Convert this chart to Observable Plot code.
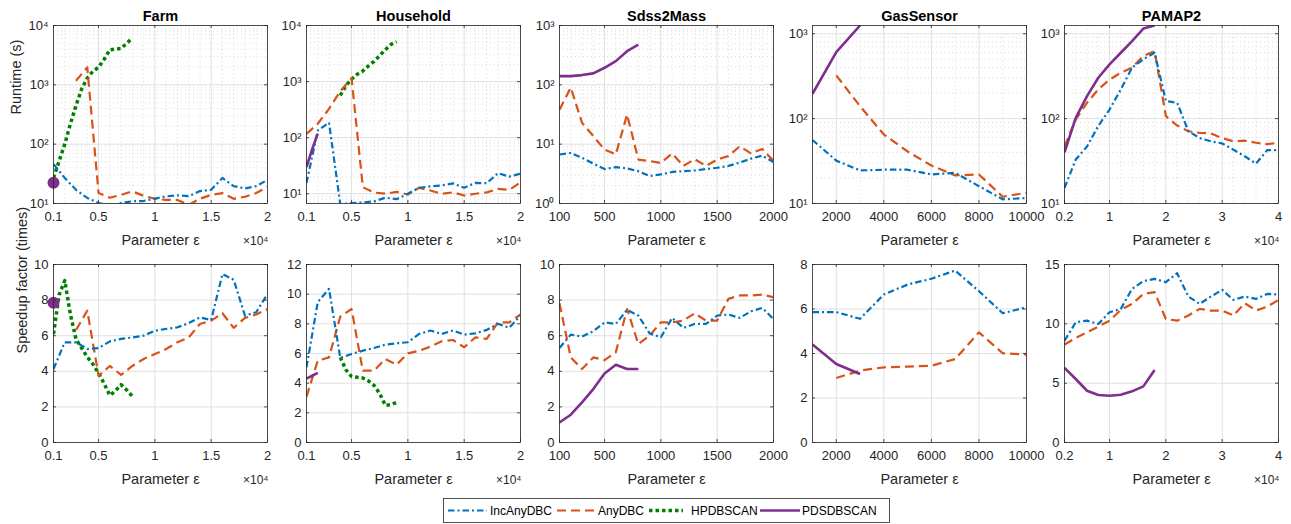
<!DOCTYPE html>
<html><head><meta charset="utf-8">
<script src="https://cdn.jsdelivr.net/npm/d3@7"></script>
<script src="https://cdn.jsdelivr.net/npm/@observablehq/plot@0.6"></script>
<style>
body{margin:0;background:#fff;}
#fig{position:relative;width:1291px;height:524px;overflow:hidden;background:#fff;font-family:"Liberation Sans",Arial,Helvetica,sans-serif;}
#fig > svg{position:absolute;}
</style></head><body><div id="fig"></div>
<script>
// ---------------- DATA ----------------
const seriesNames = ["IncAnyDBC", "AnyDBC", "HPDBSCAN", "PDSDBSCAN"];
const titles = ["Farm", "Household", "Sdss2Mass", "GasSensor", "PAMAP2"];

// Farm (eps x 10^4)
const epsFarm = [0.1,0.2,0.3,0.4,0.5,0.6,0.7,0.8,0.9,1.0,1.1,1.2,1.3,1.4,1.5,1.6,1.7,1.8,1.9,2.0];
const epsFarmAny = [0.3,0.4,0.5,0.6,0.7,0.8,0.9,1.0,1.1,1.2,1.3,1.4,1.5,1.6,1.7,1.8,1.9,2.0];
const epsFarmHp = [0.1,0.15,0.2,0.25,0.3,0.35,0.4,0.45,0.5,0.55,0.6,0.65,0.7,0.75,0.8];
const epsFarmPds = [0.1];
const farmRtInc = [46,27,17,12.4,10.2,9.3,10.2,10.9,11,12.1,13.2,13.7,13.3,16.2,17,27,19.6,18,19.6,25];
const farmRtAny = [1170,1970,15,12.5,14,16,13.5,12,11.5,11.5,9.5,12,14,15,12,13,15,19];
const farmRtHp = [27,52,100,220,450,850,1300,1700,1970,2700,3900,4000,4100,5000,6200];
const farmRtPds = [22.4];
const farmSpInc = [4.13,5.63,5.63,5.25,5.3,5.68,5.82,5.9,6.0,6.28,6.38,6.47,6.7,7.03,6.88,9.47,9.14,7.13,7.32,8.35];
const farmSpAny = [6.32,7.41,3.75,4.3,3.8,4.3,4.69,4.97,5.25,5.63,5.9,6.66,6.85,7.26,6.44,7.0,7.19,7.5];
const farmSpHp = [6.1,8.3,9.1,7.2,5.8,5.3,4.8,4.4,3.9,3.3,2.65,2.9,3.25,2.95,2.6];
const farmSpPds = [7.85];

// Household (eps x 10^4)
const epsHouse = [0.1,0.2,0.3,0.4,0.5,0.6,0.7,0.8,0.9,1.0,1.1,1.2,1.3,1.4,1.5,1.6,1.7,1.8,1.9,2.0];
const epsHouseHp = [0.4,0.45,0.5,0.55,0.6,0.65,0.7,0.75,0.8,0.85,0.9];
const epsHousePds = [0.1,0.15,0.2];
const houseRtInc = [15.5,134,185,6.5,6.8,7.0,7.3,8.5,8.0,10,12.8,13.5,14.1,15.3,12.8,15.6,15.4,23.3,20.2,22.8];
const houseRtAny = [117,177,327,675,1150,13.1,10.5,10,10.8,9.7,12.8,11.4,10,10.6,9.3,10,10.6,12.2,11.7,16];
const houseRtHp = [565,850,1100,1350,1550,1900,2300,2900,3700,4600,5100];
const houseRtPds = [30,62,118];
const houseSpInc = [5.07,9.46,10.36,5.7,5.97,6.19,6.37,6.6,6.69,6.76,7.32,7.55,7.32,7.55,7.27,7.36,7.59,8.0,7.73,8.56];
const houseSpAny = [3.09,5.52,5.74,8.49,9.0,4.84,4.84,5.63,5.25,6.01,6.19,6.46,6.82,6.91,6.42,7.09,6.98,8.1,8.1,8.63];
const houseSpHp = [5.74,4.9,4.45,4.4,4.35,4.15,3.85,3.3,2.5,2.55,2.7];
const houseSpPds = [4.3,4.5,4.7];

// Sdss2Mass
const epsSdss = [100,200,300,400,500,600,700,800,900,1000,1100,1200,1300,1400,1500,1600,1700,1800,1900,2000];
const epsSdssPds = [100,200,300,400,500,600,700,800];
const sdssRtInc = [6.7,7.1,5.9,4.7,3.8,4.1,3.9,3.5,2.9,3.1,3.4,3.5,3.6,3.8,4.0,4.3,4.9,5.7,6.4,5.0];
const sdssRtAny = [38,90,23,13.7,8.1,6.7,31.6,5.5,5.2,4.8,7.0,4.3,5.6,4.3,5.5,6.3,9.2,7.0,8.3,5.2];
const sdssRtPds = [140,140,146,156,194,251,369,478];
const sdssSpInc = [5.31,6.06,5.95,6.25,6.75,6.66,7.45,7.13,6.13,5.91,7.0,6.44,6.66,6.66,7.13,7.19,7.0,7.37,7.56,6.94];
const sdssSpAny = [7.82,4.78,4.13,4.78,4.63,5.07,7.5,5.53,6.0,6.75,6.75,6.85,7.26,6.85,6.85,8.07,8.26,8.26,8.31,8.16];
const sdssSpPds = [1.13,1.56,2.25,3.0,3.88,4.37,4.13,4.13];

// GasSensor
const epsGas = [1000,2000,3000,4000,5000,6000,7000,8000,9000,10000];
const epsGasAny = [2000,3000,4000,5000,6000,7000,8000,9000,10000];
const epsGasPds = [1000,2000,3000];
const gasRtInc = [56,32,24.5,25,25,22,23,16,11.2,11.6];
const gasRtAny = [323,140,65,41,28,21.4,22,12,13.4];
const gasRtPds = [196,608,1250];
const gasSpInc = [5.86,5.86,5.56,6.65,7.1,7.36,7.73,6.8,5.81,6.08];
const gasSpAny = [2.9,3.23,3.38,3.41,3.45,3.75,4.95,4.01,3.95];
const gasSpPds = [4.4,3.53,3.08];

// PAMAP2 (eps x 10^4)
const epsPamap = [0.2,0.4,0.6,0.8,1.0,1.2,1.4,1.6,1.8,2.0,2.2,2.4,2.6,2.8,3.0,3.2,3.4,3.6,3.8,4.0];
const epsPamapPds = [0.2,0.4,0.6,0.8,1.0,1.2,1.4,1.6,1.8];
const pamapRtInc = [15.3,33,47,82,128,221,398,500,597,161,154,71,59,54,51,43,36,29.5,42.6,42.6];
const pamapRtAny = [47,98,154,221,288,347,398,546,625,107,83,71,68,67,59,54,55,52,50,52];
const pamapRtPds = [40,102,184,303,435,597,820,1150,1250];
const pamapSpInc = [8.58,10.13,10.27,9.99,10.98,11.26,12.95,13.6,13.79,13.51,14.27,12.3,11.68,12.3,12.86,12.02,12.3,12.1,12.52,12.47];
const pamapSpAny = [8.25,8.81,9.29,9.77,10.27,11.17,11.68,12.52,12.67,10.41,10.27,10.7,11.26,11.12,11.12,10.7,11.74,11.12,11.45,12.02];
const pamapSpPds = [6.28,5.35,4.36,4.0,3.94,4.02,4.31,4.73,6.11];

// Tick labels
const ticksE4 = [0.1,0.5,1,1.5,2];
const minorE4 = [0.2,0.3,0.4,0.6,0.7,0.8,0.9,1.1,1.2,1.3,1.4,1.6,1.7,1.8,1.9];
const ticksSdss = [100,500,1000,1500,2000];
const minorSdss = [200,300,400,600,700,800,900,1100,1200,1300,1400,1600,1700,1800,1900];
const ticksGas = [2000,4000,6000,8000,10000];
const minorGas = [3000,5000,7000,9000];
const ticksPamap = [0.2,1,2,3,4];
const minorPamap = [0.4,0.6,0.8,1.2,1.4,1.6,1.8,2.2,2.4,2.6,2.8,3.2,3.4,3.6,3.8];
const ticksLog14 = [10,100,1000,10000];
const ticksLog03 = [1,10,100,1000];
const ticksLog13 = [10,100,1000];
const ticksSp10 = [0,2,4,6,8,10];
const ticksSp12 = [0,2,4,6,8,10,12];
const ticksSp8 = [0,2,4,6,8];
const ticksSp15 = [0,5,10,15];

// ---------------- STYLE / LAYOUT ----------------
const STY = {
  inc: {stroke: "#0072BD", strokeWidth: 2.2, strokeDasharray: "6.5,3,2,3"},
  any: {stroke: "#D95319", strokeWidth: 2.2, strokeDasharray: "9,5"},
  hp:  {stroke: "#008000", strokeWidth: 3.5, strokeDasharray: "3.5,3"},
  pds: {stroke: "#7E2F8E", strokeWidth: 2.6}
};
const AXC = "#262626", MAJOR = "#e0e0e0", MINOR = "#cdcdcd";
const ML = 53, MR = 16, MT = 28, MB = 50, PW = 214, PH = 178;
const colLeft = [53, 306, 559, 812, 1064];
const rowTop = [25, 264];

const SUP = {"0": "\u2070", "1": "\u00B9", "2": "\u00B2", "3": "\u00B3", "4": "\u2074"};
const logFmt = d => "10" + SUP[String(Math.round(Math.log10(d)))];
function logMinor([lo, hi]) {
  const out = [];
  for (let k = Math.floor(Math.log10(lo)); k <= Math.ceil(Math.log10(hi)); k++)
    for (let m = 2; m <= 9; m++) { const v = m * Math.pow(10, k); if (v > lo && v < hi) out.push(v); }
  return out;
}

const fig = document.getElementById("fig");

function makePanel(p) {
  const marks = [];
  if (p.xMinor) marks.push(Plot.ruleX(p.xMinor, {stroke: MINOR, strokeWidth: 0.7, strokeDasharray: "1,3"}));
  if (p.yLog) marks.push(Plot.ruleY(logMinor(p.yDomain), {stroke: MINOR, strokeWidth: 0.7, strokeDasharray: "1,3"}));
  marks.push(Plot.ruleX(p.xTicks, {stroke: MAJOR, strokeWidth: 1}));
  marks.push(Plot.ruleY(p.yTicks, {stroke: MAJOR, strokeWidth: 1}));
  for (const s of p.series) {
    const data = s.x.map((x, i) => ({x, y: s.y[i]}));
    if (data.length === 1) {
      marks.push(Plot.dot(data, {x: "x", y: "y", r: 6, fill: STY[s.k].stroke, stroke: null}));
    } else {
      marks.push(Plot.line(data, {x: "x", y: "y", ...STY[s.k], strokeLinecap: "butt", strokeLinejoin: "round", clip: true}));
    }
  }
  marks.push(Plot.frame({stroke: AXC, strokeWidth: 0.8}));
  marks.push(Plot.tickX(p.xTicks, {x: d => d, stroke: AXC, strokeWidth: 0.8, insetTop: PH - 3}));
  marks.push(Plot.tickX(p.xTicks, {x: d => d, stroke: AXC, strokeWidth: 0.8, insetBottom: PH - 3}));
  marks.push(Plot.tickY(p.yTicks, {y: d => d, stroke: AXC, strokeWidth: 0.8, insetRight: PW - 3}));
  marks.push(Plot.tickY(p.yTicks, {y: d => d, stroke: AXC, strokeWidth: 0.8, insetLeft: PW - 3}));
  marks.push(Plot.axisX(p.xTicks, {tickSize: 0, tickPadding: 8, tickFormat: d => String(d), label: null, fontSize: 13}));
  marks.push(Plot.axisY(p.yTicks, {tickSize: 0, tickPadding: 5, tickFormat: p.yLog ? logFmt : d => String(d), label: null, fontSize: 13}));
  if (p.title) marks.push(Plot.text([p.title], {text: d => d, frameAnchor: "top", lineAnchor: "bottom", dy: -5, fontWeight: "bold", fontSize: 14.5, fill: "#000"}));
  marks.push(Plot.text(["Parameter \u03B5"], {text: d => d, frameAnchor: "bottom", lineAnchor: "middle", dy: 37, fontSize: 14.5}));
  if (p.exp) marks.push(Plot.text(["\u00D710\u2074"], {text: d => d, frameAnchor: "bottom-right", textAnchor: "end", lineAnchor: "middle", dy: 38, dx: 1, fontSize: 12}));
  if (p.ylabel) marks.push(Plot.text([p.ylabel], {text: d => d, frameAnchor: "left", rotate: -90, dx: p.ylabelDx, fontSize: 14.5}));

  const svg = Plot.plot({
    width: ML + PW + MR, height: MT + PH + MB,
    marginLeft: ML, marginRight: MR, marginTop: MT, marginBottom: MB,
    x: {domain: p.xDomain},
    y: p.yLog ? {type: "log", domain: p.yDomain} : {domain: p.yDomain},
    style: {fontFamily: "'Liberation Sans', Arial, Helvetica, sans-serif", fontSize: "13px", color: AXC, background: "transparent", overflow: "visible"},
    marks
  });
  svg.style.position = "absolute";
  svg.style.left = (p.left - ML) + "px";
  svg.style.top = (p.top - MT) + "px";
  svg.style.background = "transparent";
  svg.style.maxWidth = "none";
  fig.appendChild(svg);
}

const S = (k, x, y) => ({k, x, y});

// Top row: runtime (log)
makePanel({left: colLeft[0], top: rowTop[0], title: titles[0], xDomain: [0.1, 2], xTicks: ticksE4, xMinor: minorE4, exp: true,
  yLog: true, yDomain: [10, 10000], yTicks: ticksLog14, ylabel: "Runtime (s)", ylabelDx: -37,
  series: [S("hp", epsFarmHp, farmRtHp), S("any", epsFarmAny, farmRtAny), S("inc", epsFarm, farmRtInc), S("pds", epsFarmPds, farmRtPds)]});
makePanel({left: colLeft[1], top: rowTop[0], title: titles[1], xDomain: [0.1, 2], xTicks: ticksE4, xMinor: minorE4, exp: true,
  yLog: true, yDomain: [6.7, 10000], yTicks: ticksLog14,
  series: [S("hp", epsHouseHp, houseRtHp), S("any", epsHouse, houseRtAny), S("inc", epsHouse, houseRtInc), S("pds", epsHousePds, houseRtPds)]});
makePanel({left: colLeft[2], top: rowTop[0], title: titles[2], xDomain: [100, 2000], xTicks: ticksSdss, xMinor: minorSdss,
  yLog: true, yDomain: [1, 1000], yTicks: ticksLog03,
  series: [S("any", epsSdss, sdssRtAny), S("inc", epsSdss, sdssRtInc), S("pds", epsSdssPds, sdssRtPds)]});
makePanel({left: colLeft[3], top: rowTop[0], title: titles[3], xDomain: [1000, 10000], xTicks: ticksGas, xMinor: minorGas,
  yLog: true, yDomain: [10, 1250], yTicks: ticksLog13,
  series: [S("any", epsGasAny, gasRtAny), S("inc", epsGas, gasRtInc), S("pds", epsGasPds, gasRtPds)]});
makePanel({left: colLeft[4], top: rowTop[0], title: titles[4], xDomain: [0.2, 4], xTicks: ticksPamap, xMinor: minorPamap, exp: true,
  yLog: true, yDomain: [10, 1250], yTicks: ticksLog13,
  series: [S("any", epsPamap, pamapRtAny), S("inc", epsPamap, pamapRtInc), S("pds", epsPamapPds, pamapRtPds)]});

// Bottom row: speedup (linear)
makePanel({left: colLeft[0], top: rowTop[1], xDomain: [0.1, 2], xTicks: ticksE4, exp: true,
  yDomain: [0, 10], yTicks: ticksSp10, ylabel: "Speedup factor (times)", ylabelDx: -31,
  series: [S("hp", epsFarmHp, farmSpHp), S("any", epsFarmAny, farmSpAny), S("inc", epsFarm, farmSpInc), S("pds", epsFarmPds, farmSpPds)]});
makePanel({left: colLeft[1], top: rowTop[1], xDomain: [0.1, 2], xTicks: ticksE4, exp: true,
  yDomain: [0, 12], yTicks: ticksSp12,
  series: [S("hp", epsHouseHp, houseSpHp), S("any", epsHouse, houseSpAny), S("inc", epsHouse, houseSpInc), S("pds", epsHousePds, houseSpPds)]});
makePanel({left: colLeft[2], top: rowTop[1], xDomain: [100, 2000], xTicks: ticksSdss,
  yDomain: [0, 10], yTicks: ticksSp10,
  series: [S("any", epsSdss, sdssSpAny), S("inc", epsSdss, sdssSpInc), S("pds", epsSdssPds, sdssSpPds)]});
makePanel({left: colLeft[3], top: rowTop[1], xDomain: [1000, 10000], xTicks: ticksGas,
  yDomain: [0, 8], yTicks: ticksSp8,
  series: [S("any", epsGasAny, gasSpAny), S("inc", epsGas, gasSpInc), S("pds", epsGasPds, gasSpPds)]});
makePanel({left: colLeft[4], top: rowTop[1], xDomain: [0.2, 4], xTicks: ticksPamap, exp: true,
  yDomain: [0, 15], yTicks: ticksSp15,
  series: [S("any", epsPamap, pamapSpAny), S("inc", epsPamap, pamapSpInc), S("pds", epsPamapPds, pamapSpPds)]});

// Legend
const legKeys = ["inc", "any", "hp", "pds"];
const legPos = [[5, 44, 47], [114, 153, 155], [206, 240, 248], [317, 357, 359]];
const leg = d3.select(fig).append("svg").attr("width", 448).attr("height", 26)
  .style("left", "443px").style("top", "498px").style("position", "absolute");
leg.append("rect").attr("x", 0.5).attr("y", 0.5).attr("width", 446).attr("height", 24)
  .attr("fill", "#fff").attr("stroke", AXC).attr("stroke-width", 0.8);
legKeys.forEach((k, i) => {
  const [a, b, t] = legPos[i];
  const g = leg.append("g");
  g.append("line").attr("x1", a).attr("x2", b).attr("y1", 12.5).attr("y2", 12.5)
    .attr("stroke", STY[k].stroke).attr("stroke-width", STY[k].strokeWidth)
    .attr("stroke-dasharray", STY[k].strokeDasharray || null).attr("stroke-linecap", "butt");
  g.append("text").attr("x", t).attr("y", 12.5).attr("dy", "0.35em").attr("font-size", 12)
    .attr("font-family", "'Liberation Sans', Arial, sans-serif").attr("fill", "#000").text(seriesNames[i]);
});
</script></body></html>
